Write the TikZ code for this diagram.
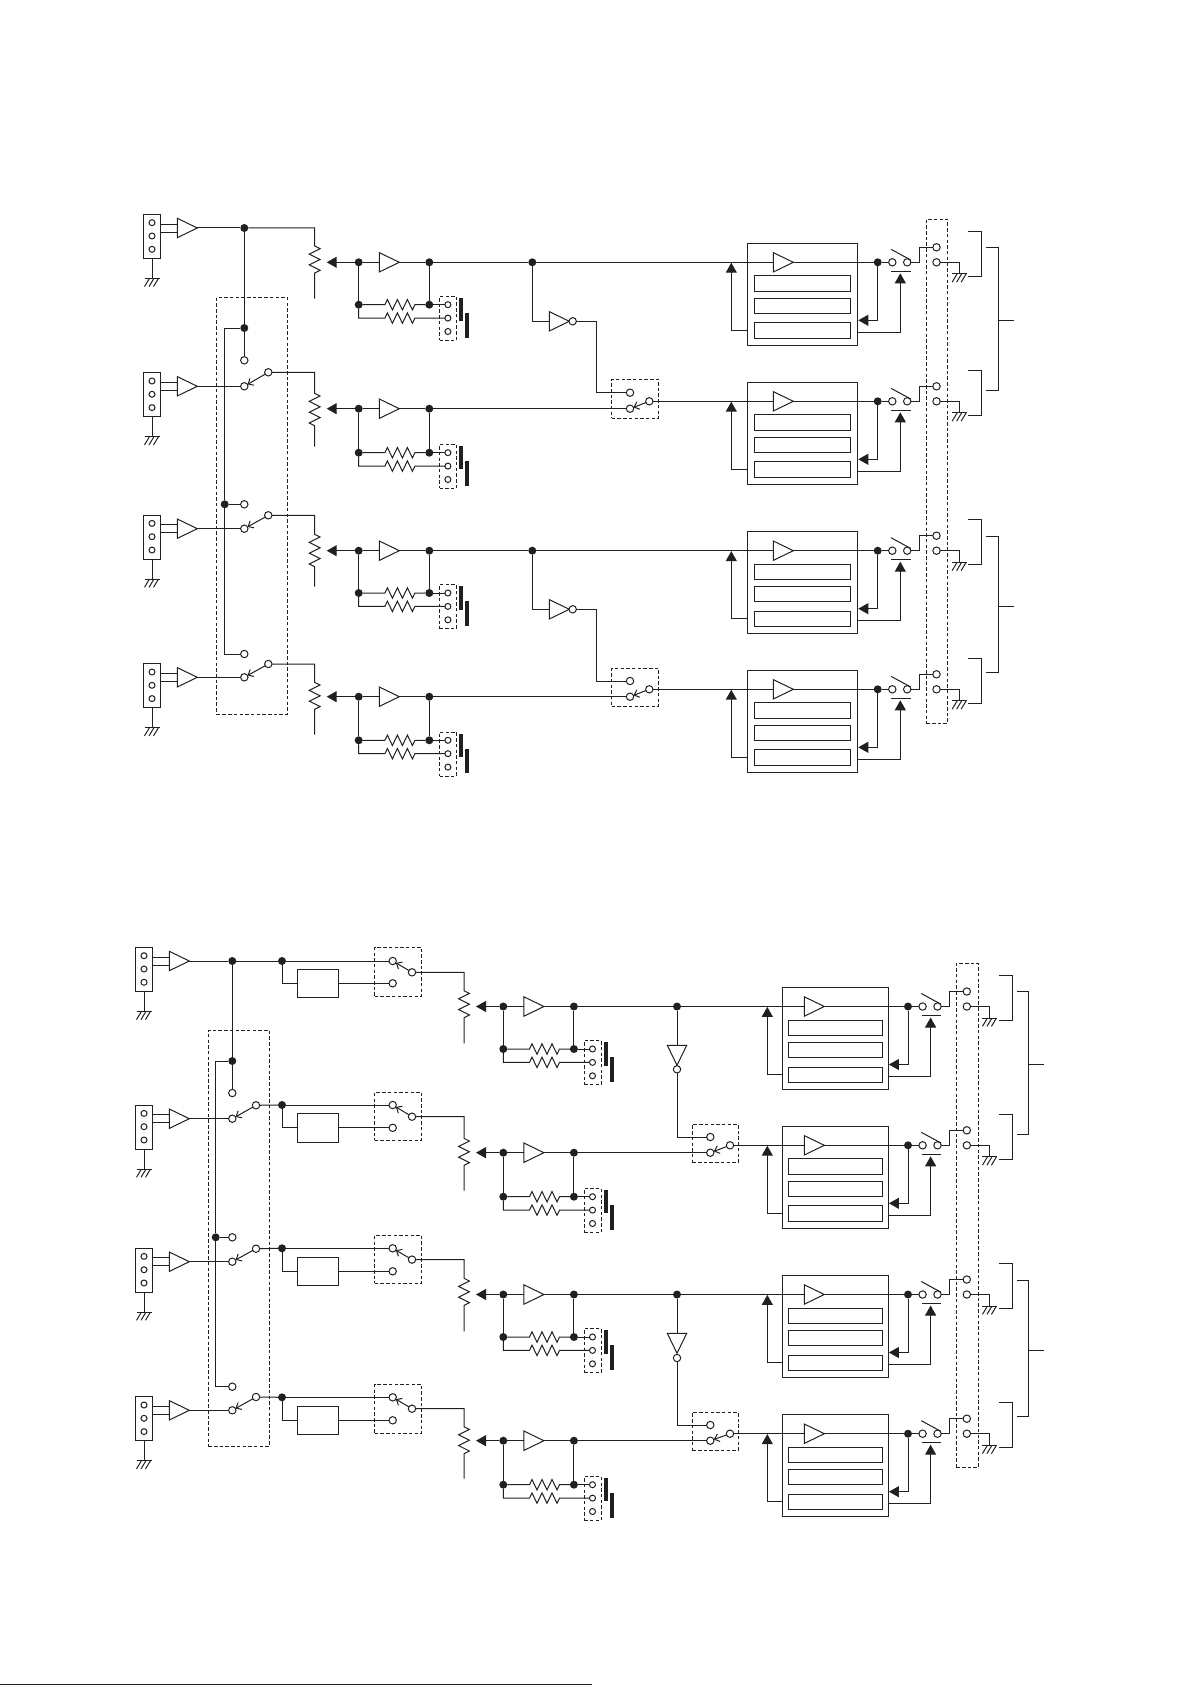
\documentclass[tikz,border=0pt]{standalone}
\usepackage{tikz}
\usetikzlibrary{shapes.geometric,arrows.meta,decorations.pathmorphing,calc}
\definecolor{ink}{HTML}{231F20}
\tikzstyle{port}=[circle,draw,fill=white,minimum size=7.4pt,inner sep=0pt,outer sep=0pt]
\tikzstyle{pinhole}=[port,minimum size=6pt]
\tikzstyle{dot}=[circle,fill=ink,minimum size=8pt,inner sep=0pt,outer sep=0pt]
\tikzstyle{amp}=[isosceles triangle,isosceles triangle stretches,draw,minimum width=19.4pt,minimum height=20pt,inner sep=0pt,outer sep=0pt,anchor=apex]
\tikzstyle{zig}=[decoration={zigzag,amplitude=5.4pt,segment length=10.8pt}]
\tikzstyle{rzig}=[decoration={zigzag,amplitude=5.2pt,segment length=10pt,pre length=2.5pt,post length=0pt}]
\tikzstyle{fed}=[-{Triangle[length=10pt,width=11pt]}]
\tikzstyle{blade}=[-{Straight Barb[length=4.5pt,width=8pt]}]
\tikzstyle{plain}=[draw,rectangle,inner sep=0pt,outer sep=0pt]
\tikzstyle{dashbox}=[plain,dashed,dash pattern=on 3.5pt off 2.2pt,line width=.8pt]
\tikzstyle{solid bar}=[rectangle,fill=ink,inner sep=0pt,outer sep=0pt]

% name, style, x1, y1, x2, y2
\newcommand{\boxat}[6]{%
  \pgfmathsetmacro\boxw{(#5)-(#3)}\pgfmathsetmacro\boxh{(#6)-(#4)}
  \node[#2,minimum width=\boxw pt,minimum height=\boxh pt] (#1) at ({((#3)+(#5))/2},{((#4)+(#6))/2}) {};}
\newcommand{\gnd}[3]{%
  \coordinate (#1) at (#2,#3);
  \draw (#2-7.5,#3) -- (#2+7.5,#3);
  \foreach \dx in {-2.5,2,6.5}{\draw (#2+\dx,#3) -- ++(-5,8.3);}}
% input jack and its amplifier: id, x of jack, y of amp tip
\newcommand{\jackin}[3]{%
  \boxat{#1-jk}{plain}{#2-8.7}{#3-13.7}{#2+8.7}{#3+30.3}
  \foreach \n/\dy in {1/-5.3,2/8,3/21.3}{\node[pinhole] (#1-p\n) at (#2,#3+\dy) {};}
  \node[amp] (#1-a) at (#2+45.3,#3) {};
  \coordinate (#1-l1) at (#2+25.3,#3-3.9);
  \coordinate (#1-l2) at (#2+25.3,#3+4.1);
  \draw (#1-l1 -| #1-jk.east) -- (#1-l1);
  \draw (#1-l2 -| #1-jk.east) -- (#1-l2);
  \gnd{#1-g}{#2}{#3+50.3}
  \draw (#1-jk) -- (#1-g);}
% id, x left, x right, y upper, y common, y wiper
\newcommand{\selector}[6]{%
  \node[port] (#1-u) at (#2,#4) {};
  \node[port] (#1-t) at (#2,#5) {};
  \node[port] (#1-c) at (#3,#6) {};
  \draw[blade] (#1-c) -- (#1-t);
  \draw (#1-a.apex) -- (#1-t);}
% id, source, x, y zig start, y zig end, y end
\newcommand{\pot}[6]{%
  \coordinate (#1-za) at (#3,#4);
  \coordinate (#1-zb) at (#3,#5);
  \coordinate (#1-ze) at (#3,#6);
  \draw[zig] (#2) -| (#1-za) decorate {-- (#1-zb)} -- (#1-ze);}
% id, x of first dot, x of pot, y main, y lower
\newcommand{\stage}[5]{%
  \coordinate (#1-tip) at (#3+12,#4);
  \node[dot] (#1-j1) at (#2,#4) {};
  \node[amp] (#1-a) at (#2+40.6,#4) {};
  \node[dot] (#1-j2) at (#2+70.6,#4) {};
  \node[dot] (#1-j3) at (#2,#5) {};
  \node[dot] (#1-j4) at (#2+70.6,#5) {};
  \boxat{#1-dbx}{dashbox}{#2+80.8}{#5-8.4}{#2+97.8}{#5+35.6}
  \foreach \n/\dy in {1/0,2/13.4,3/26.8}{\node[pinhole] (#1-t\n) at (#2+89.2,#5+\dy) {};}
  \boxat{#1-bar1}{solid bar}{#2+100.5}{#5-6.7}{#2+104.5}{#5+16.6}
  \boxat{#1-bar2}{solid bar}{#2+106.5}{#5+8.3}{#2+110.5}{#5+33}
  \coordinate (#1-ra) at (#2+23.7,#5);
  \coordinate (#1-rb) at (#2+56.7,#5);
  \coordinate (#1-rc) at (#2+23.7,#5+13.4);
  \coordinate (#1-rd) at (#2+56.7,#5+13.4);
  \draw[fed] (#1-j1) -- (#1-tip);
  \draw (#1-j1) -- (#1-a.lower side);
  \draw (#1-a.apex) -- (#1-j2);
  \draw (#1-j1) -- (#1-j3);
  \draw (#1-j2) -- (#1-j4);
  \draw[rzig] (#1-j3) -- (#1-ra) decorate {-- (#1-rb)} -- (#1-j4);
  \draw (#1-j4) -- (#1-t1);
  \draw[rzig] (#1-j3) |- (#1-rc) decorate {-- (#1-rd)} -- (#1-t2);}
% id, y main; x positions come from \xbl \xbr \xam \xfb \xjn \xil \xir
\newcommand{\record}[2]{%
  \boxat{#1-bk}{plain}{\xbl}{#2-19}{\xbr}{#2+83}
  \node[amp] (#1-a) at (\xam+20,#2) {};
  \foreach \n/\ya/\yb in {1/13.5/29,2/36/51,3/60.5/76}{\boxat{#1-b\n}{plain}{\xil}{#2+\ya}{\xir}{#2+\yb}}
  \node[dot] (#1-j) at (\xjn,#2) {};
  \node[port] (#1-c1) at (\xjn+14.6,#2) {};
  \node[port] (#1-c2) at (\xjn+29.5,#2) {};
  \coordinate (#1-k) at (\xjn+41.9,#2);
  \node[port] (#1-t1) at (\xjn+58.8,#2-15) {};
  \node[port] (#1-t2) at (\xjn+58.8,#2) {};
  \gnd{#1-g}{\xjn+81.9}{#2+11.6}
  \coordinate (#1-fbs) at (\xbl,#2+68);
  \coordinate (#1-fbt) at (\xfb,#2+0.4);
  \coordinate (#1-in) at (\xbr+0.6,#2+58);
  \coordinate (#1-out) at (\xbr,#2+70);
  \coordinate (#1-up) at (\xjn+22.6,#2+11);
  \coordinate (#1-sa) at (\xjn+13.3,#2-13);
  \coordinate (#1-sb) at (\xjn+33,#2-2.3);
  \coordinate (#1-ua) at (\xjn+13.5,#2+9);
  \coordinate (#1-ub) at (\xjn+33,#2+9);
  \coordinate (#1-ba) at (\xjn+90.6,#2-31);
  \coordinate (#1-bb) at (\xjn+104.2,#2+14);
  \coordinate (#1-bc) at (\xjn+90.6,#2+14);
  \draw (#1-a.apex) -- (#1-j);
  \draw (#1-j) -- (#1-c1);
  \draw[fed] (#1-j) |- (#1-in);
  \draw[fed] (#1-out) -| (#1-up);
  \draw[fed] (#1-fbs) -| (#1-fbt);
  \draw (#1-sa) -- (#1-sb);
  \draw (#1-ua) -- (#1-ub);
  \draw (#1-c2) -| (#1-k) |- (#1-t1);
  \draw (#1-t2) -| (#1-g);
  \draw (#1-ba) -| (#1-bb) -- (#1-bc);}
% id, x1, x2, x3, y top, y bottom, y stub
\newcommand{\bigbracket}[7]{%
  \coordinate (#1-a) at (#2,#5);
  \coordinate (#1-b) at (#3,#6);
  \coordinate (#1-c) at (#2,#6);
  \coordinate (#1-d) at (#3,#7);
  \coordinate (#1-e) at (#4,#7);
  \draw (#1-a) -| (#1-b) -- (#1-c);
  \draw (#1-d) -- (#1-e);}

\begin{document}
\begin{tikzpicture}[x=1pt,y=-1pt,line width=1pt,color=ink]
  \useasboundingbox (0,0) rectangle (1191,1685);

  % upper board
  \foreach \id/\tip in {A1/228,A2/386.3,A3/528.7,A4/677.3}{\jackin{\id}{152}{\tip}}
  \selector{A2}{244.3}{268.3}{360.3}{386.3}{372.3}
  \selector{A3}{244.3}{268.3}{504.3}{528.7}{515.3}
  \selector{A4}{244.3}{268.3}{654}{677.3}{664}
  \boxat{Asel}{dashbox}{216.7}{297.3}{287.3}{714.3}

  \node[dot] (A1-j) at (244.3,228) {};
  \node[dot] (A2-j) at (244.3,328) {};
  \node[dot] (A3-j) at (224.7,504.3) {};
  \draw (A1-a.apex) -- (A1-j);
  \draw (A1-j) -- (A2-j);
  \draw (A2-j) -- (A2-u);
  \draw (A2-j) -| (A3-j);
  \draw (A3-j) -- (A3-u);
  \draw (A3-j) |- (A4-u);

  \pot{A1}{A1-j}{314.7}{246}{278.3}{298.7}
  \pot{A2}{A2-c}{314.7}{393.3}{426}{446.7}
  \pot{A3}{A3-c}{314.7}{534.3}{566.7}{586.7}
  \pot{A4}{A4-c}{314.7}{682.3}{714}{734.7}

  \foreach \id/\ymain/\ylow in {A1/262.3/304.7,A2/408.7/452.7,A3/550.7/593,A4/696.7/740.3}{\stage{\id}{358.7}{314.7}{\ymain}{\ylow}}

  \def\xbl{747.3}\def\xbr{857.7}\def\xam{773.3}\def\xfb{731.3}\def\xjn{877.7}\def\xil{754.3}\def\xir{850.7}
  \foreach \id/\ymain in {RA1/262.3,RA2/401.3,RA3/550.7,RA4/689.3}{\record{\id}{\ymain}}
  \boxat{Aout}{dashbox}{926.3}{219.3}{947.7}{723.3}
  \bigbracket{Ab1}{986}{998.7}{1013.7}{247.3}{390.3}{320.3}
  \bigbracket{Ab2}{986}{998.7}{1013.7}{536.3}{672.3}{606.3}

  % phase inverters, upper board
  \foreach \a/\b/\ra/\rb/\yk/\yi/\yc/\ys/\yw/\yt/\yd in {A1/A2/RA1/RA2/262.3/321.3/392.7/408.7/401.3/379.3/418.3,A3/A4/RA3/RA4/550.7/609.3/681/696.7/689.3/668.3/706.3}{
    \node[dot] (\a-k) at (532.3,\yk) {};
    \node[amp] (\a-inv) at (569.3,\yi) {};
    \node[port] (\a-bub) at (572.7,\yi) {};
    \coordinate (\a-q) at (596.3,\yc);
    \node[port] (\b-s1) at (630,\yc) {};
    \node[port] (\b-s2) at (630,\ys) {};
    \node[port] (\b-s3) at (649.3,\yw) {};
    \boxat{\b-sbx}{dashbox}{611.7}{\yt}{658.7}{\yd}
    \draw (\a-j2) -- (\a-k);
    \draw (\a-k) -- (\ra-a.lower side);
    \draw (\a-k) |- (\a-inv.lower side);
    \draw (\a-bub) -| (\a-q) -- (\b-s1);
    \draw (\b-j2) -- (\b-s2);
    \draw[blade] (\b-s3) -- (\b-s2);
    \draw (\b-s3) -- (\rb-a.lower side);
  }

  % lower board
  \foreach \id/\tip in {B1/961,B2/1118.7,B3/1261.7,B4/1410.3}{\jackin{\id}{144}{\tip}}
  \selector{B2}{232.3}{256}{1093}{1118.7}{1105.3}
  \selector{B3}{232.3}{256}{1237.3}{1261.7}{1248.7}
  \selector{B4}{232.3}{256}{1386.7}{1410.3}{1397}
  \boxat{Bsel}{dashbox}{208.3}{1030.3}{269.3}{1446.3}

  \node[dot] (B1-j0) at (232.3,961) {};
  \node[dot] (B2-j0) at (232.3,1061) {};
  \node[dot] (B3-j0) at (215.7,1237.3) {};
  \draw (B1-a.apex) -- (B1-j0);
  \draw (B1-j0) -- (B2-j0);
  \draw (B2-j0) -- (B2-u);
  \draw (B2-j0) -| (B3-j0);
  \draw (B3-j0) -- (B3-u);
  \draw (B3-j0) |- (B4-u);

  % delay block and its selector
  \foreach \id/\ya/\yb/\yc/\yo/\yt/\yd in {B1/961/969.3/997.3/972.3/947.3/996.3,B2/1105/1113.3/1142.3/1116.7/1092.3/1140.3,B3/1248.3/1257.3/1285.3/1259.6/1235.3/1283.3,B4/1397.3/1406.3/1434.3/1408.7/1384.3/1433.3}{
    \node[dot] (\id-j) at (282,\ya) {};
    \boxat{\id-dl}{plain}{297.3}{\yb}{338.7}{\yc}
    \node[port] (\id-s1) at (392.7,\ya) {};
    \node[port] (\id-s2) at (392.7,{(\yb+\yc)/2}) {};
    \node[port] (\id-s3) at (412,\yo) {};
    \boxat{\id-sbx}{dashbox}{374.7}{\yt}{421.7}{\yd}
    \draw (\id-j) -- (\id-s1);
    \draw (\id-j) |- (\id-dl);
    \draw (\id-dl) -- (\id-s2);
    \draw[blade] (\id-s3) -- (\id-s1);
  }
  \draw (B1-j0) -- (B1-j);
  \draw (B2-c) -- (B2-j);
  \draw (B3-c) -- (B3-j);
  \draw (B4-c) -- (B4-j);

  \pot{B1}{B1-s3}{464}{990.7}{1021.7}{1043.3}
  \pot{B2}{B2-s3}{464}{1138.3}{1169.3}{1190.7}
  \pot{B3}{B3-s3}{464}{1278.3}{1310}{1331.3}
  \pot{B4}{B4-s3}{464}{1426.7}{1458.3}{1478.7}

  \foreach \id/\ymain/\ylow in {B1/1006.5/1049,B2/1152.7/1196.7,B3/1294.5/1337,B4/1440.7/1484.7}{\stage{\id}{503.3}{464}{\ymain}{\ylow}}

  \def\xbl{782.3}\def\xbr{888.3}\def\xam{804.3}\def\xfb{767.3}\def\xjn{908}\def\xil{788.3}\def\xir{882.7}
  \foreach \id/\ymain in {RB1/1006.5,RB2/1145.3,RB3/1294.5,RB4/1433.7}{\record{\id}{\ymain}}
  \boxat{Bout}{dashbox}{956.3}{963.3}{978.3}{1467.3}
  \bigbracket{Bb1}{1017}{1028.3}{1044.3}{991.3}{1134.3}{1064.3}
  \bigbracket{Bb2}{1017}{1028.3}{1044.3}{1280.3}{1416.7}{1350.7}

  % phase inverters, lower board
  \foreach \a/\b/\ra/\rb/\yk/\yi/\yo/\yc/\ys/\yw/\yt/\yd in {B1/B2/RB1/RB2/1006.5/1065.3/1069.3/1137/1152.7/1145.3/1124.3/1162.3,B3/B4/RB3/RB4/1294.5/1353.3/1358/1425/1440.7/1433.7/1412.3/1450.3}{
    \node[dot] (\a-k) at (677,\yk) {};
    \node[amp,shape border rotate=270] (\a-inv) at (677,\yi) {};
    \node[port] (\a-bub) at (677,\yo) {};
    \coordinate (\a-q) at (677,\yc);
    \node[port] (\b-s1) at (710.3,\yc) {};
    \node[port] (\b-s2) at (710.3,\ys) {};
    \node[port] (\b-s3) at (730,\yw) {};
    \boxat{\b-sbx2}{dashbox}{692.3}{\yt}{738.3}{\yd}
    \draw (\a-j2) -- (\a-k);
    \draw (\a-k) -- (\ra-a.lower side);
    \draw (\a-k) -- (\a-inv.lower side);
    \draw (\a-bub) -- (\a-q) -- (\b-s1);
    \draw (\b-j2) -- (\b-s2);
    \draw[blade] (\b-s3) -- (\b-s2);
    \draw (\b-s3) -- (\rb-a.lower side);
  }

  % cut off rule at the foot of the page
  \coordinate (footl) at (0,1684.4);
  \coordinate (footr) at (592,1684.4);
  \draw[line width=1.2pt] (footl) -- (footr);
\end{tikzpicture}
\end{document}
